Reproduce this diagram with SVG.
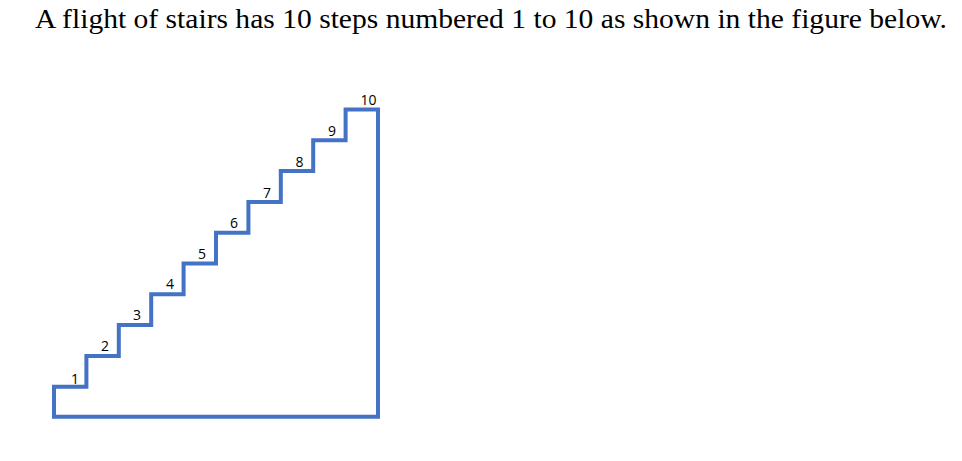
<svg xmlns="http://www.w3.org/2000/svg" width="962" height="461" viewBox="0 0 962 461">
<style>
.title{font-family:"Liberation Serif","DejaVu Serif",serif;font-size:27px;fill:#000}
.lbl{font-family:"Open Sans","Liberation Sans",sans-serif;font-size:14px;fill:#000;text-anchor:middle}
.stair{fill:none;stroke:#4472C4;stroke-width:4;stroke-linejoin:miter}
</style>
<rect width="962" height="461" fill="#fff"/>
<text class="title" x="35" y="28" textLength="912" lengthAdjust="spacingAndGlyphs">A flight of stairs has 10 steps numbered 1 to 10 as shown in the figure below.</text>
<g id="stairs">
<path class="stair" d="M54,416.7 V386.7 H86.4 V355.9 H118.8 V325.1 H151.2 V294.3 H183.6 V263.5 H216 V232.7 H248.4 V201.9 H280.8 V171.1 H313.2 V140.3 H345.6 V109.5 H378 V416.7 Z"/>
</g>
<g id="labels">
<text class="lbl" x="75" y="384">1</text>
<text class="lbl" x="105" y="351">2</text>
<text class="lbl" x="137" y="319.5">3</text>
<text class="lbl" x="170" y="288.5">4</text>
<text class="lbl" x="202" y="258.5">5</text>
<text class="lbl" x="234" y="227.5">6</text>
<text class="lbl" x="267" y="197.5">7</text>
<text class="lbl" x="299.5" y="166.5">8</text>
<text class="lbl" x="332" y="136">9</text>
<text class="lbl" x="368.5" y="105">10</text>
</g>
</svg>
